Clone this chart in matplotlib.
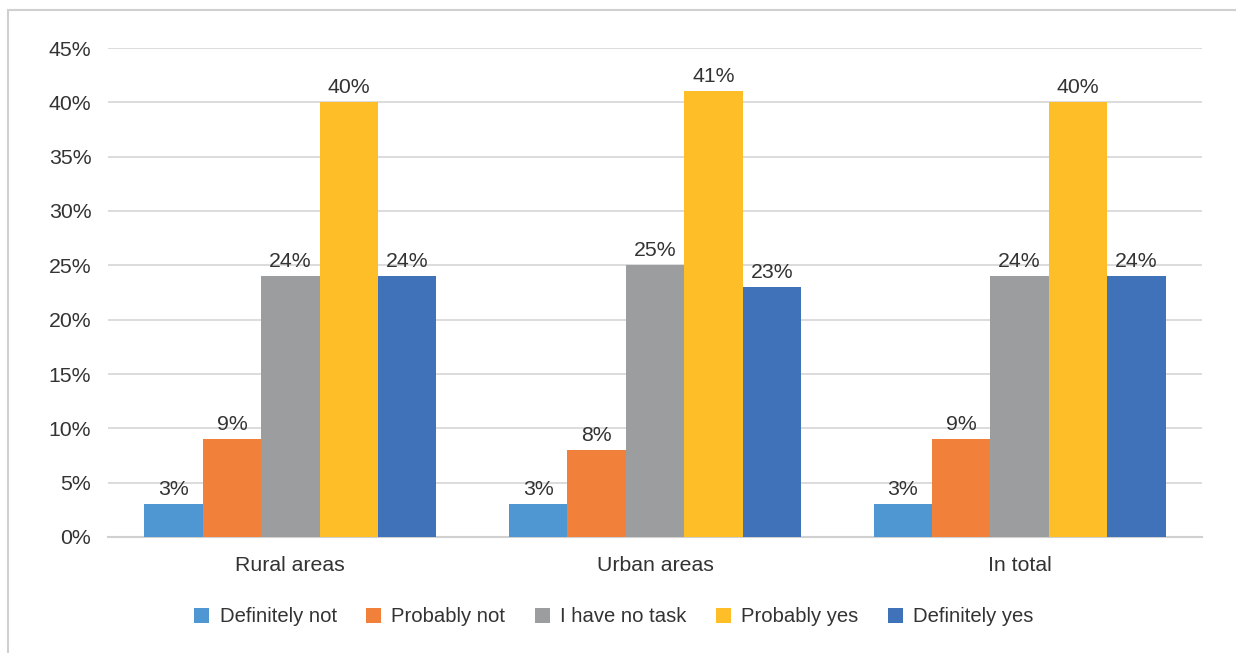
import numpy as np
import matplotlib
matplotlib.use("Agg")
import matplotlib.pyplot as plt
from matplotlib.patches import Rectangle

# --- data ---
categories = ["Rural areas", "Urban areas", "In total"]
series_names = ["Definitely not", "Probably not", "I have no task", "Probably yes", "Definitely yes"]
definitely_not = [3, 3, 3]
probably_not = [9, 8, 9]
no_task = [24, 25, 24]
probably_yes = [40, 41, 40]
definitely_yes = [24, 23, 24]
yticks = [0, 5, 10, 15, 20, 25, 30, 35, 40, 45]

colors = ["#4E97D2", "#F0803A", "#9B9D9E", "#FDBE28", "#3F72B9"]
series = [definitely_not, probably_not, no_task, probably_yes, definitely_yes]

plt.rcParams["font.family"] = ["Liberation Sans", "DejaVu Sans"]
fs = 15.3

fig = plt.figure(figsize=(12.36, 6.53), dpi=100)
W, H = 1236, 653
ax = fig.add_axes([108 / W, 1 - 537 / H, (1202 - 108) / W, (537 - 48) / H])

# outer chart frame
fig.add_artist(Rectangle((8 / W, -0.1), 1.2, 1 - 10 / H + 0.1, transform=fig.transFigure,
                         fill=False, edgecolor="#D0D0D0", linewidth=1.5))

x = np.arange(len(categories))
bw = 0.16
for i, (vals, name, c) in enumerate(zip(series, series_names, colors)):
    pos = x + (i - 2) * bw
    bars = ax.bar(pos, vals, width=bw, color=c, label=name, zorder=3)
    for b, v in zip(bars, vals):
        ax.text(b.get_x() + b.get_width() / 2, v + 0.5, f"{v}%", ha="center", va="bottom",
                fontsize=fs, color="#333333", zorder=4)

ax.set_xlim(-0.5, len(categories) - 0.5)
ax.set_ylim(0, 45)
ax.set_yticks(yticks)
ax.set_yticklabels([f"{t}%" for t in yticks])
ax.set_xticks(x)
ax.set_xticklabels(categories)
ax.tick_params(axis="both", length=0, labelsize=fs, labelcolor="#333333")
ax.tick_params(axis="y", pad=12)
ax.tick_params(axis="x", pad=14)
ax.grid(axis="y", color="#D9D9D9", linewidth=1.3, zorder=0)
for s in ["top", "right", "left"]:
    ax.spines[s].set_visible(False)
ax.spines["bottom"].set_color("#D0D0D0")
ax.spines["bottom"].set_linewidth(1.5)

fig.legend(loc="center", bbox_to_anchor=(614 / W, 1 - 617 / H), ncol=5, frameon=False,
           fontsize=14.6, handlelength=0.75, handleheight=0.75, handletextpad=0.5,
           columnspacing=1.45, labelcolor="#333333")

fig.savefig("out.png", dpi=100)
